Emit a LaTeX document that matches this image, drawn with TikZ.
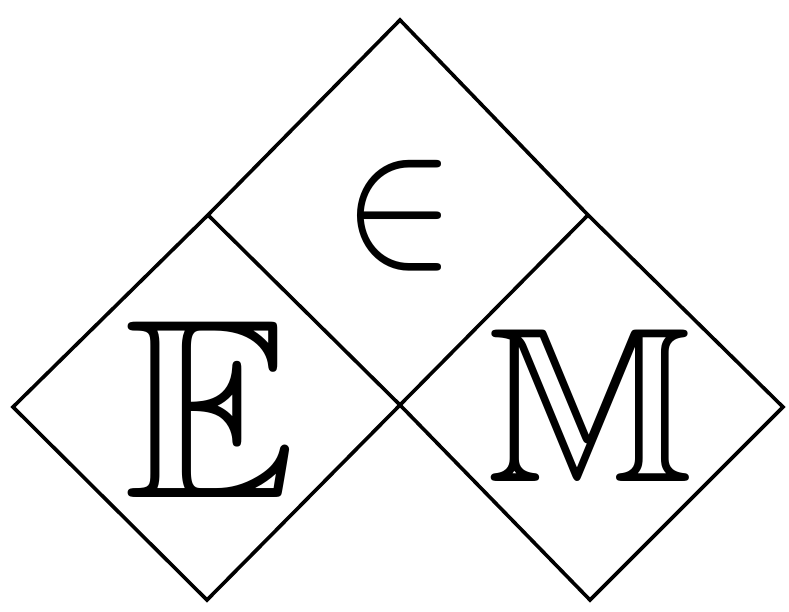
\documentclass[tikz,border=0pt]{standalone}
\usepackage{amssymb}
\usepackage{graphicx}
\tikzset{edge/.style={line width=3.6pt,line join=miter,line cap=butt},
glyph/.style={inner sep=0pt,outer sep=0pt}}
\begin{document}
\begin{tikzpicture}[x=1pt,y=-1pt]
\useasboundingbox (0,0) rectangle (789,612);
\coordinate (T) at (400,20);
\coordinate (L1) at (208,215);
\coordinate (R1) at (588,215);
\coordinate (C) at (400,405);
\coordinate (FL) at (13,407);
\coordinate (BL) at (207,600);
\coordinate (BR) at (590,600);
\coordinate (FR) at (783,407);
\draw[edge] (T) -- (R1) -- (FR) -- (BR) -- (C) -- (BL) -- (FL) -- (L1) -- cycle;
\draw[edge] (L1) -- (C) -- (R1);
\node[glyph] (E) at (211,409) {\resizebox{172pt}{176pt}{$\mathbb{E}$}};
\node[glyph] (M) at (591,405) {\resizebox{206pt}{152pt}{$\mathbb{M}$}};
\node[glyph] (in) at (400,216) {\resizebox{112pt}{103pt}{$\in$}};
\end{tikzpicture}
\end{document}
